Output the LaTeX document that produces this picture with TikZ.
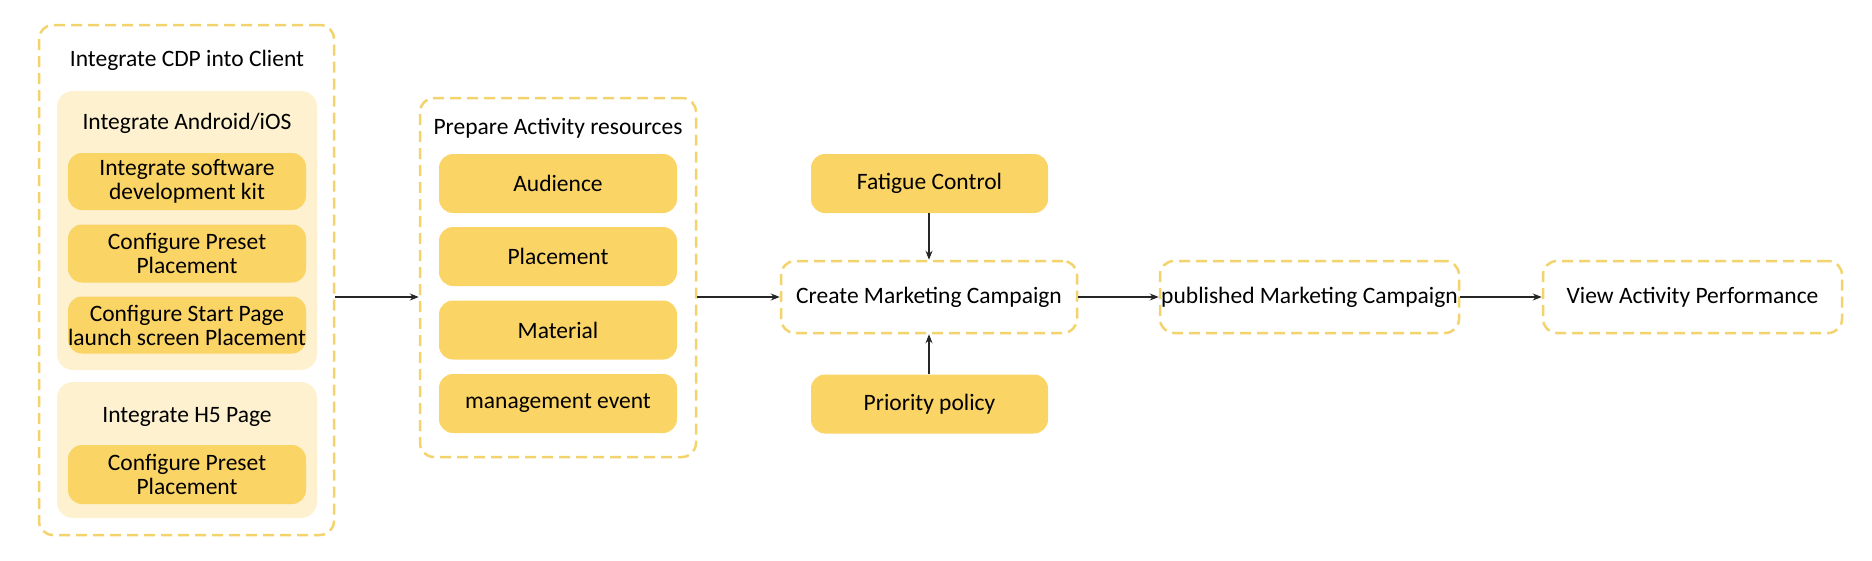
\documentclass[tikz,border=0pt]{standalone}
\usepackage{fontspec}
\setmainfont{Carlito}
\usetikzlibrary{arrows.meta}
\definecolor{boxyellow}{HTML}{FBD466}
\definecolor{panelyellow}{HTML}{FDF1CF}
\definecolor{dashyellow}{HTML}{F3D36C}
\tikzset{
	txt/.style={font=\fontsize{23.5}{24}\selectfont,text=black,align=center},
	dashbox/.style 2 args={draw=dashyellow,line width=2.5pt,dash pattern=on 11pt off 6pt,rounded corners=14pt,minimum width=#1,minimum height=#2,inner sep=0pt,txt},
	panel/.style 2 args={fill=panelyellow,rounded corners=16pt,minimum width=#1,minimum height=#2,inner sep=0pt},
	ybox/.style 2 args={fill=boxyellow,rounded corners=14pt,minimum width=#1,minimum height=#2,inner sep=0pt,txt},
	flow/.style={-{Stealth[length=9pt,width=7pt]},line width=1.3pt,black!85}
}

\begin{document}
\begin{tikzpicture}[x=1pt,y=-1pt]
					\useasboundingbox (0,0) rectangle (1872,560);

					\node [dashbox={295pt}{510pt}] (cdp) at (186.5, 280) {};
					\node [txt] (cdptitle) at (187, 60) {Integrate CDP into Client};
					\node [panel={260pt}{279pt}] (android) at (187, 230.5) {};
					\node [txt] (androidtitle) at (187, 123) {Integrate Android/iOS};
					\node [ybox={238pt}{57pt}] (sdk) at (187, 181.5) {Integrate software\\development kit};
					\node [ybox={238pt}{58pt}] (preset) at (187, 253.5) {Configure Preset\\Placement};
					\node [ybox={238pt}{57pt}] (startpage) at (187, 325) {Configure Start Page\\launch screen Placement};
					\node [panel={260pt}{136pt}] (hfive) at (187, 450) {};
					\node [txt] (hfivetitle) at (187, 417) {Integrate H5 Page};
					\node [ybox={238pt}{59pt}] (hpreset) at (187, 474.5) {Configure Preset\\Placement};

					\node [dashbox={276pt}{359pt}] (prepare) at (558, 277.5) {};
					\node [txt] (preparetitle) at (558, 128) {Prepare Activity resources};
					\node [ybox={238pt}{59pt}] (audience) at (558, 183.5) {Audience};
					\node [ybox={238pt}{59pt}] (placement) at (558, 256.5) {Placement};
					\node [ybox={238pt}{59pt}] (material) at (558, 330) {Material};
					\node [ybox={238pt}{59pt}] (event) at (558, 403.5) {management event};

					\node [ybox={237pt}{59pt}] (fatigue) at (929.5, 183.5) {Fatigue Control};
					\node [dashbox={296pt}{72pt}] (create) at (929, 297) {Create Marketing Campaign};
					\node [ybox={237pt}{59pt}] (priority) at (929.5, 404) {Priority policy};

					\node [dashbox={299pt}{72pt}] (published) at (1309.5, 297) {published Marketing Campaign};
					\node [dashbox={299pt}{72pt}] (view) at (1692.5, 297) {View Activity Performance};

					\draw [flow] (cdp.east |- create) -- (prepare.west |- create);
					\draw [flow] (prepare.east |- create) -- (create.west);
					\draw [flow] (fatigue.south -| create) -- (create.north);
					\draw [flow] (priority.north -| create) -- (create.south);
					\draw [flow] (create.east) -- (published.west);
					\draw [flow] (published.east) -- (view.west);
				\end{tikzpicture}
\end{document}
